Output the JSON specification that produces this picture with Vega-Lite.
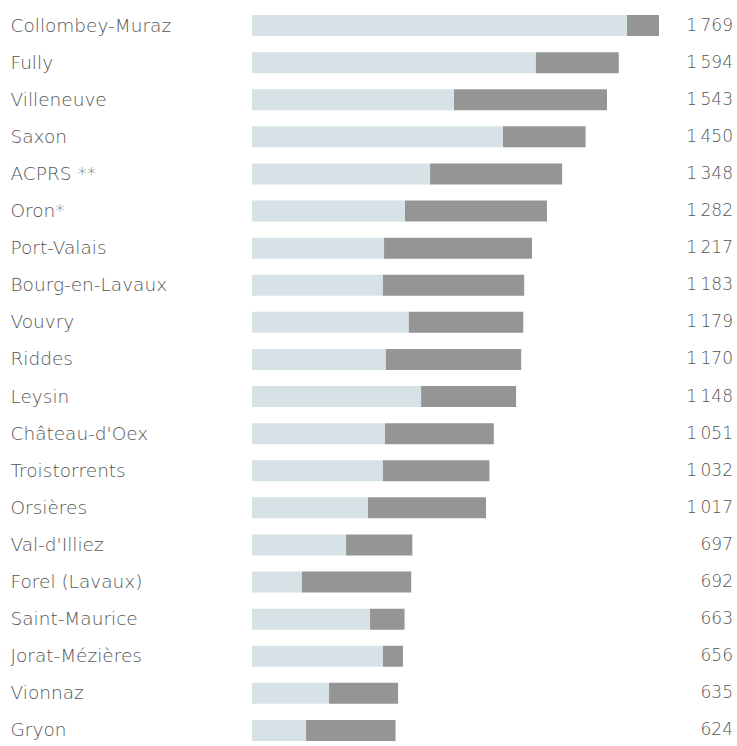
{
  "$schema": "https://vega.github.io/schema/vega-lite/v6.json",
  "autosize": {"type": "none"},
  "width": 485,
  "height": 742,
  "padding": {"left": 252, "top": 7, "right": 0, "bottom": 0},
  "background": "white",
  "config": {
    "view": {"stroke": null},
    "locale": {"number": {"decimal": ",", "thousands": "\u2009", "grouping": [3], "currency": ["", ""]}},
    "text": {"font": "DejaVu Sans"},
    "axis": {"labelFont": "DejaVu Sans"}
  },
  "datasets": {
    "bars": [
      {"name": "Collombey-Muraz", "part": "p1", "value": 1630},
      {"name": "Collombey-Muraz", "part": "p2", "value": 139},
      {"name": "Fully", "part": "p1", "value": 1234},
      {"name": "Fully", "part": "p2", "value": 360},
      {"name": "Villeneuve", "part": "p1", "value": 878},
      {"name": "Villeneuve", "part": "p2", "value": 665},
      {"name": "Saxon", "part": "p1", "value": 1091},
      {"name": "Saxon", "part": "p2", "value": 359},
      {"name": "ACPRS **", "part": "p1", "value": 774},
      {"name": "ACPRS **", "part": "p2", "value": 574},
      {"name": "Oron*", "part": "p1", "value": 665},
      {"name": "Oron*", "part": "p2", "value": 617},
      {"name": "Port-Valais", "part": "p1", "value": 574},
      {"name": "Port-Valais", "part": "p2", "value": 643},
      {"name": "Bourg-en-Lavaux", "part": "p1", "value": 569},
      {"name": "Bourg-en-Lavaux", "part": "p2", "value": 614},
      {"name": "Vouvry", "part": "p1", "value": 682},
      {"name": "Vouvry", "part": "p2", "value": 497},
      {"name": "Riddes", "part": "p1", "value": 582},
      {"name": "Riddes", "part": "p2", "value": 588},
      {"name": "Leysin", "part": "p1", "value": 735},
      {"name": "Leysin", "part": "p2", "value": 413},
      {"name": "Château-d'Oex", "part": "p1", "value": 578},
      {"name": "Château-d'Oex", "part": "p2", "value": 473},
      {"name": "Troistorrents", "part": "p1", "value": 569},
      {"name": "Troistorrents", "part": "p2", "value": 463},
      {"name": "Orsières", "part": "p1", "value": 504},
      {"name": "Orsières", "part": "p2", "value": 513},
      {"name": "Val-d'Illiez", "part": "p1", "value": 409},
      {"name": "Val-d'Illiez", "part": "p2", "value": 288},
      {"name": "Forel (Lavaux)", "part": "p1", "value": 217},
      {"name": "Forel (Lavaux)", "part": "p2", "value": 475},
      {"name": "Saint-Maurice", "part": "p1", "value": 513},
      {"name": "Saint-Maurice", "part": "p2", "value": 150},
      {"name": "Jorat-Mézières", "part": "p1", "value": 569},
      {"name": "Jorat-Mézières", "part": "p2", "value": 87},
      {"name": "Vionnaz", "part": "p1", "value": 335},
      {"name": "Vionnaz", "part": "p2", "value": 300},
      {"name": "Gryon", "part": "p1", "value": 235},
      {"name": "Gryon", "part": "p2", "value": 389}
    ],
    "totals": [
      {"name": "Collombey-Muraz", "total": 1769},
      {"name": "Fully", "total": 1594},
      {"name": "Villeneuve", "total": 1543},
      {"name": "Saxon", "total": 1450},
      {"name": "ACPRS **", "total": 1348},
      {"name": "Oron*", "total": 1282},
      {"name": "Port-Valais", "total": 1217},
      {"name": "Bourg-en-Lavaux", "total": 1183},
      {"name": "Vouvry", "total": 1179},
      {"name": "Riddes", "total": 1170},
      {"name": "Leysin", "total": 1148},
      {"name": "Château-d'Oex", "total": 1051},
      {"name": "Troistorrents", "total": 1032},
      {"name": "Orsières", "total": 1017},
      {"name": "Val-d'Illiez", "total": 697},
      {"name": "Forel (Lavaux)", "total": 692},
      {"name": "Saint-Maurice", "total": 663},
      {"name": "Jorat-Mézières", "total": 656},
      {"name": "Vionnaz", "total": 635},
      {"name": "Gryon", "total": 624}
    ]
  },
  "layer": [
    {
      "data": {"name": "bars"},
      "mark": {"type": "bar", "cornerRadius": 0},
      "encoding": {
        "y": {
          "field": "name", "type": "nominal", "sort": null,
          "scale": {"paddingInner": 0.434, "paddingOuter": 0.217},
          "axis": {"title": null, "domain": false, "ticks": false, "labelAlign": "left", "labelPadding": 242, "labelFontSize": 18.5, "labelFontWeight": 200, "labelColor": "#555555", "labelFont": "DejaVu Sans", "labelLimit": 240}
        },
        "x": {
          "field": "value", "type": "quantitative", "stack": "zero",
          "scale": {"domain": [0, 2108], "nice": false}, "axis": null
        },
        "color": {
          "field": "part", "type": "nominal",
          "scale": {"domain": ["p1", "p2"], "range": ["#d6e2e5", "#959595"]},
          "legend": null
        },
        "order": {"field": "part", "sort": "ascending"}
      }
    },
    {
      "data": {"name": "totals"},
      "mark": {"type": "text", "align": "right", "baseline": "middle", "fontSize": 17, "fontWeight": 200, "color": "#555555", "dx": -4},
      "encoding": {
        "y": {"field": "name", "type": "nominal", "sort": null},
        "x": {"value": "width"},
        "text": {"field": "total", "type": "quantitative", "format": ",d"}
      }
    }
  ]
}
